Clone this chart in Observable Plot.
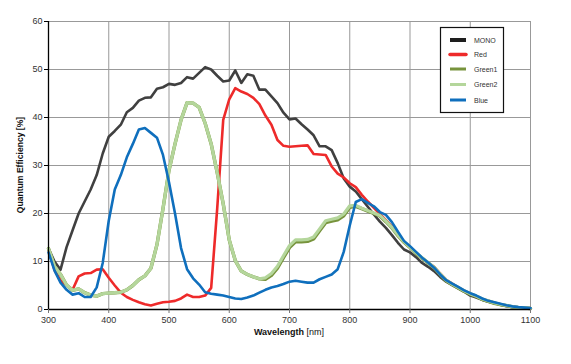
<!DOCTYPE html>
<html>
<head>
<meta charset="utf-8">
<script src="https://cdn.jsdelivr.net/npm/d3@7"></script>
<script src="https://cdn.jsdelivr.net/npm/@observablehq/plot@0.6"></script>
<style>
  html, body { margin: 0; padding: 0; background: #fff; }
  #chart { width: 571px; height: 364px; }
</style>
</head>
<body>
<div id="chart"></div>
<script>
// ---- data ----
const wavelengths = d3.range(300, 1101, 10);
const xTicks = [300, 400, 500, 600, 700, 800, 900, 1000, 1100];
const yTicks = [0, 10, 20, 30, 40, 50, 60];
const seriesNames = ["MONO", "Red", "Green1", "Green2", "Blue"];
const seriesColors = ["#404040", "#ee2a2a", "#77933c", "#b4d69b", "#0f6fbd"];
const legendColors = ["#1e1e1e", "#ee2a2a", "#77933c", "#b4d69b", "#0f6fbd"];

const mono = [12.7, 10.0, 8.3, 13.0, 16.5, 20.0, 22.5, 25.0, 28.0, 32.5,
  36.0, 37.2, 38.5, 41.1, 42.0, 43.5, 44.1, 44.2, 46.0, 46.3,
  47.0, 46.8, 47.2, 48.4, 48.1, 49.3, 50.5, 50.0, 48.7, 47.5,
  47.7, 49.8, 47.2, 49.0, 48.7, 45.8, 45.8, 44.4, 43.0, 41.0,
  39.6, 39.8, 38.6, 37.5, 36.3, 34.0, 34.0, 33.2, 30.5, 27.3,
  25.6, 24.6, 23.0, 21.4, 19.8, 18.3, 17.0, 15.5, 13.9, 12.5,
  11.9, 10.9, 9.7, 8.9, 8.0, 6.8, 5.8, 5.1, 4.4, 3.7,
  2.9, 2.5, 2.0, 1.6, 1.3, 1.0, 0.7, 0.5, 0.35, 0.25, 0.15];

const red = [12.5, 8.2, 6.0, 5.0, 4.1, 6.9, 7.5, 7.6, 8.3, 8.4,
  6.6, 5.0, 3.5, 2.6, 2.0, 1.5, 1.1, 0.85, 1.2, 1.5,
  1.6, 1.8, 2.3, 3.1, 2.6, 2.6, 2.9, 4.5, 21.0, 39.5,
  43.8, 46.1, 45.4, 44.9, 44.1, 42.8, 40.4, 38.5, 35.3, 34.1,
  33.9, 34.0, 34.1, 34.2, 32.4, 32.3, 32.2, 29.8, 28.3, 27.5,
  26.3, 25.5, 23.9, 22.5, 21.2, 19.9, 18.6, 17.3, 15.4, 14.0,
  12.9, 11.7, 10.7, 9.8, 8.9, 7.5, 6.2, 5.4, 4.6, 3.9,
  3.3, 2.7, 2.2, 1.8, 1.4, 1.1, 0.85, 0.6, 0.45, 0.35, 0.3];

const green1 = [12.7, 9.0, 7.3, 5.1, 4.0, 4.3, 3.5, 3.0, 2.8, 3.3,
  3.4, 3.5, 3.6, 4.1, 5.0, 6.2, 7.0, 8.6, 13.5, 21.0,
  29.0, 34.5, 39.5, 43.1, 43.0, 42.1, 38.8, 34.5, 28.5, 22.0,
  14.5, 10.2, 8.0, 7.3, 6.8, 6.4, 6.3, 7.1, 8.6, 10.8,
  12.9, 14.1, 14.1, 14.2, 14.7, 16.4, 18.1, 18.4, 18.7, 19.5,
  21.3, 21.5, 21.0, 20.5, 20.0, 19.5, 18.3, 17.0, 15.4, 14.0,
  12.9, 11.7, 10.7, 9.7, 8.7, 7.3, 6.0, 5.2, 4.5, 3.8,
  3.2, 2.7, 2.1, 1.7, 1.3, 1.0, 0.8, 0.55, 0.4, 0.3, 0.2];

const green2 = [12.7, 9.0, 7.3, 5.1, 4.0, 4.3, 3.5, 3.0, 2.8, 3.3,
  3.4, 3.5, 3.6, 4.1, 5.0, 6.2, 7.0, 8.6, 13.5, 21.0,
  29.0, 34.5, 39.5, 43.1, 43.0, 42.1, 38.8, 34.5, 28.5, 22.0,
  14.5, 10.2, 8.0, 7.3, 6.8, 6.4, 6.6, 7.5, 9.0, 11.2,
  13.3, 14.5, 14.5, 14.6, 15.1, 16.8, 18.5, 18.8, 19.1, 19.9,
  21.6, 21.7, 21.1, 20.6, 20.1, 19.6, 18.4, 17.1, 15.5, 14.1,
  13.0, 11.8, 10.8, 9.8, 8.8, 7.4, 6.1, 5.3, 4.6, 3.9,
  3.3, 2.8, 2.2, 1.8, 1.4, 1.1, 0.85, 0.6, 0.45, 0.35, 0.25];

const blue = [11.9, 8.1, 5.6, 4.1, 3.1, 3.4, 2.6, 2.6, 4.6, 9.7,
  18.5, 25.0, 28.0, 31.7, 34.5, 37.5, 37.8, 36.8, 35.8, 32.2,
  26.5, 20.0, 12.8, 8.4, 6.5, 5.2, 3.6, 3.3, 3.1, 2.9,
  2.6, 2.3, 2.2, 2.5, 2.9, 3.5, 4.1, 4.6, 4.9, 5.3,
  5.8, 6.0, 5.8, 5.6, 5.6, 6.3, 6.8, 7.3, 8.4, 12.0,
  17.5, 22.4, 23.0, 22.2, 21.5, 20.3, 19.7, 18.2, 16.2, 14.3,
  13.2, 12.0, 10.8, 9.8, 8.7, 7.3, 6.1, 5.4, 4.7, 4.0,
  3.4, 2.9, 2.3, 1.8, 1.5, 1.2, 0.9, 0.65, 0.5, 0.4, 0.3];

const xLabel = "Wavelength";
const xUnit = "[nm]";
const yLabel = "Quantum Efficiency [%]";

// ---- build ----
const seriesValues = [mono, red, green1, green2, blue];
const widths = [2.6, 2.6, 3.4, 3.2, 2.6];
const tables = seriesValues.map((vals, i) =>
  wavelengths.map((w, j) => ({wl: w, qe: vals[j], s: seriesNames[i]})));

const W = 571, H = 364;
const mL = 48, mR = 41, mT = 21, mB = 55;
const fmt = d3.format("d");

const plot = Plot.plot({
  width: W, height: H,
  marginLeft: mL, marginRight: mR, marginTop: mT, marginBottom: mB,
  style: {fontFamily: "'Liberation Sans', Arial, sans-serif", background: "#fff", overflow: "visible"},
  x: {domain: [300, 1100], label: null},
  y: {domain: [0, 60], label: null},
  marks: [
    Plot.gridX(xTicks, {stroke: "#999", strokeOpacity: 1, strokeWidth: 1}),
    Plot.gridY(yTicks, {stroke: "#999", strokeOpacity: 1, strokeWidth: 1}),
    ...tables.map((t, i) => Plot.line(t, {
      x: "wl", y: "qe", stroke: seriesColors[i], strokeWidth: widths[i],
      strokeLinejoin: "round", strokeLinecap: "round"
    })),
    Plot.ruleY([0], {stroke: "#000", strokeWidth: 1.3}),
    Plot.ruleX([300], {stroke: "#000", strokeWidth: 1.3}),
    Plot.axisX(xTicks, {tickSize: 4, tickPadding: 3, fontSize: 9, stroke: "#777", color: "#333", label: null, tickFormat: fmt}),
    Plot.axisY(yTicks, {tickSize: 4, tickPadding: 2, fontSize: 9, stroke: "#000", color: "#333", label: null, tickFormat: fmt})
  ]
});

const svg = d3.select(plot);

// axis titles
const xt = svg.append("text")
  .attr("x", (mL + (W - mR)) / 2)
  .attr("y", 335)
  .attr("text-anchor", "middle")
  .attr("font-size", 9)
  .attr("fill", "#111");
xt.append("tspan").attr("font-weight", "bold").text(xLabel + " ");
xt.append("tspan").attr("font-weight", "normal").text(xUnit);

svg.append("text")
  .attr("transform", `translate(23,${(mT + (H - mB)) / 2}) rotate(-90)`)
  .attr("text-anchor", "middle")
  .attr("font-size", 8.6)
  .attr("font-weight", "bold")
  .attr("fill", "#111")
  .text(yLabel);

// legend
const lg = svg.append("g");
lg.append("rect")
  .attr("x", 440.5).attr("y", 27.5).attr("width", 63).attr("height", 85)
  .attr("fill", "#fff").attr("stroke", "#111").attr("stroke-width", 1.2);
const legendY = [40, 54.5, 69, 84.5, 100];
const legendW = [4, 3.5, 3, 3, 3];
seriesNames.forEach((name, i) => {
  lg.append("line")
    .attr("x1", 450).attr("x2", 466)
    .attr("y1", legendY[i]).attr("y2", legendY[i])
    .attr("stroke", legendColors[i]).attr("stroke-width", legendW[i])
    .attr("stroke-linecap", i === 1 ? "round" : "butt");
  lg.append("text")
    .attr("x", 474).attr("y", legendY[i] + 2.5)
    .attr("text-anchor", "start")
    .attr("font-size", 7).attr("fill", "#333")
    .text(name);
});

document.getElementById("chart").appendChild(plot);
</script>
</body>
</html>
